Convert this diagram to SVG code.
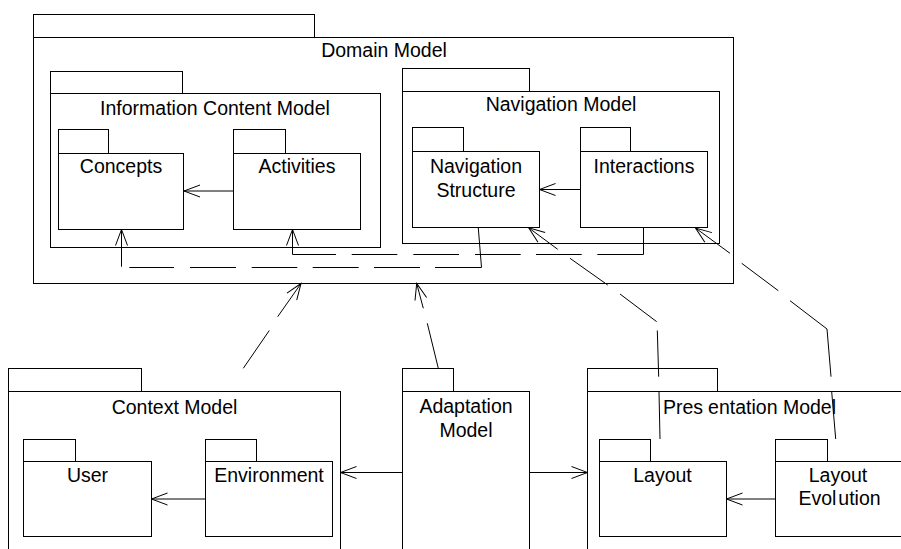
<svg xmlns="http://www.w3.org/2000/svg" width="901" height="549" viewBox="0 0 901 549">
  <style>
    .pkg rect { fill: none; stroke: #000; stroke-width: 1; }
    .pkg text { font-family: "Liberation Sans", Arial, sans-serif; font-size: 19.5px; fill: #000; text-anchor: middle; }
    .dep { fill: none; stroke: #000; stroke-width: 1; }
  </style>
  <defs>
    <!-- open V arrowhead used by every dependency -->
    <marker id="open-arrow" markerUnits="userSpaceOnUse" orient="auto" refX="0" refY="0" markerWidth="20" markerHeight="16" overflow="visible">
      <path d="M-16,-6 L0,0 L-16,6" fill="none" stroke="#000" stroke-width="1"/>
    </marker>
  </defs>

  <rect x="0" y="0" width="901" height="549" fill="#fff"/>

  <!-- Domain Model and its nested packages -->
  <g id="domain-model" class="pkg">
    <rect x="33.5" y="14.5" width="281" height="23"/>
    <rect x="33.5" y="37.5" width="700" height="246"/>
    <text x="384" y="57">Domain Model</text>
  </g>

  <g id="information-content-model" class="pkg">
    <rect x="50.5" y="71.5" width="132" height="22"/>
    <rect x="50.5" y="93.5" width="330" height="154"/>
    <text x="215" y="114.5">Information Content Model</text>
  </g>

  <g id="concepts" class="pkg">
    <rect x="58.5" y="129.5" width="50" height="24"/>
    <rect x="58.5" y="153.5" width="125" height="76"/>
    <text x="121" y="172.5">Concepts</text>
  </g>

  <g id="activities" class="pkg">
    <rect x="233.5" y="129.5" width="52" height="24"/>
    <rect x="233.5" y="153.5" width="127" height="76"/>
    <text x="297" y="172.5">Activities</text>
  </g>

  <g id="navigation-model" class="pkg">
    <rect x="402.5" y="68.5" width="127" height="23"/>
    <rect x="402.5" y="91.5" width="317" height="152"/>
    <text x="561" y="111">Navigation Model</text>
  </g>

  <g id="navigation-structure" class="pkg">
    <rect x="412.5" y="127.5" width="51" height="24"/>
    <rect x="412.5" y="151.5" width="127" height="76"/>
    <text x="476" y="173.3">Navigation</text>
    <text x="476" y="197.3">Structure</text>
  </g>

  <g id="interactions" class="pkg">
    <rect x="580.5" y="127.5" width="50" height="24"/>
    <rect x="580.5" y="151.5" width="127" height="76"/>
    <text x="644" y="173.3">Interactions</text>
  </g>

  <!-- Context Model -->
  <g id="context-model" class="pkg">
    <rect x="8.5" y="368.5" width="133" height="23"/>
    <rect x="8.5" y="391.5" width="332" height="170"/>
    <text x="174.5" y="413.5">Context Model</text>
  </g>

  <g id="user" class="pkg">
    <rect x="23.5" y="439.5" width="52" height="22"/>
    <rect x="23.5" y="461.5" width="128" height="75"/>
    <text x="87.5" y="482">User</text>
  </g>

  <g id="environment" class="pkg">
    <rect x="205.5" y="439.5" width="51" height="22"/>
    <rect x="205.5" y="461.5" width="127" height="75"/>
    <text x="269" y="482">Environment</text>
  </g>

  <!-- Adaptation Model -->
  <g id="adaptation-model" class="pkg">
    <rect x="402.5" y="368.5" width="51" height="23"/>
    <rect x="402.5" y="391.5" width="127" height="170"/>
    <text x="466" y="413">Adaptation</text>
    <text x="466" y="437">Model</text>
  </g>

  <!-- Presentation Model -->
  <g id="presentation-model" class="pkg">
    <rect x="587.5" y="368.5" width="130" height="23"/>
    <rect x="587.5" y="391.5" width="330" height="170"/>
    <text x="749.5" y="413.5">Pres<tspan dx="5">entation Model</tspan></text>
  </g>

  <g id="layout" class="pkg">
    <rect x="599.5" y="439.5" width="51" height="22"/>
    <rect x="599.5" y="461.5" width="127" height="75"/>
    <text x="662.5" y="482">Layout</text>
  </g>

  <g id="layout-evolution" class="pkg">
    <rect x="775.5" y="439.5" width="52" height="22"/>
    <rect x="775.5" y="461.5" width="127" height="75"/>
    <text x="838" y="482">Layout</text>
    <text x="839.5" y="505">Evol<tspan dx="2">ution</tspan></text>
  </g>

  <!-- dependencies -->
  <g id="connectors">
    <!-- solid dependencies -->
    <path class="dep" d="M233.5,191 L184,191" marker-end="url(#open-arrow)"/>
    <path class="dep" d="M580.5,189.5 L539.5,189.5" marker-end="url(#open-arrow)"/>
    <path class="dep" d="M205.5,499 L151.5,499" marker-end="url(#open-arrow)"/>
    <path class="dep" d="M402.5,472.5 L340.5,472.5" marker-end="url(#open-arrow)"/>
    <path class="dep" d="M529.5,472.5 L587.5,472.5" marker-end="url(#open-arrow)"/>
    <path class="dep" d="M775.5,499 L726.5,499" marker-end="url(#open-arrow)"/>

    <!-- Navigation Structure to Concepts -->
    <path class="dep" d="M478.3,228 L481.5,267.5 L435,267.5 M420,267.5 L374,267.5 M358.7,267.5 L312.7,267.5 M297.3,267.5 L251.7,267.5 M236,267.5 L190,267.5 M174,267.5 L129.3,267.5 M121.5,266.7 L121.5,229.5" marker-end="url(#open-arrow)"/>

    <!-- Interactions to Activities -->
    <path class="dep" d="M643.5,228 L643.5,254.5 L597.3,254.5 M581.7,254.5 L536,254.5 M520.7,254.5 L475,254.5 M459,254.5 L413.3,254.5 M397.3,254.5 L351.7,254.5 M336,254.5 L292.5,254.5 L292.5,229.5" marker-end="url(#open-arrow)"/>

    <!-- Layout to Navigation Structure -->
    <path class="dep" d="M660,439 L659,391.7 M658.7,376.7 L657.3,330.5 M656.7,321.7 L620,294 M607.7,285 L570,258.3 M557.7,249.3 L528.7,227.8" marker-end="url(#open-arrow)"/>

    <!-- Layout Evolution to Interactions -->
    <path class="dep" d="M835.7,439 L831.7,391.7 M831,376.7 L827,329 L790,300.7 M778.3,290.7 L741.7,263.3 M730,253.3 L695.5,228" marker-end="url(#open-arrow)"/>

    <!-- Context Model to Domain Model -->
    <path class="dep" d="M243.3,368.3 L269.3,330.5 M277.7,316.7 L301,283.5" marker-end="url(#open-arrow)"/>

    <!-- Adaptation Model to Domain Model -->
    <path class="dep" d="M438.3,368.3 L427.3,323.3 M423.3,308.3 L416.7,283.5" marker-end="url(#open-arrow)"/>
  </g>
</svg>
